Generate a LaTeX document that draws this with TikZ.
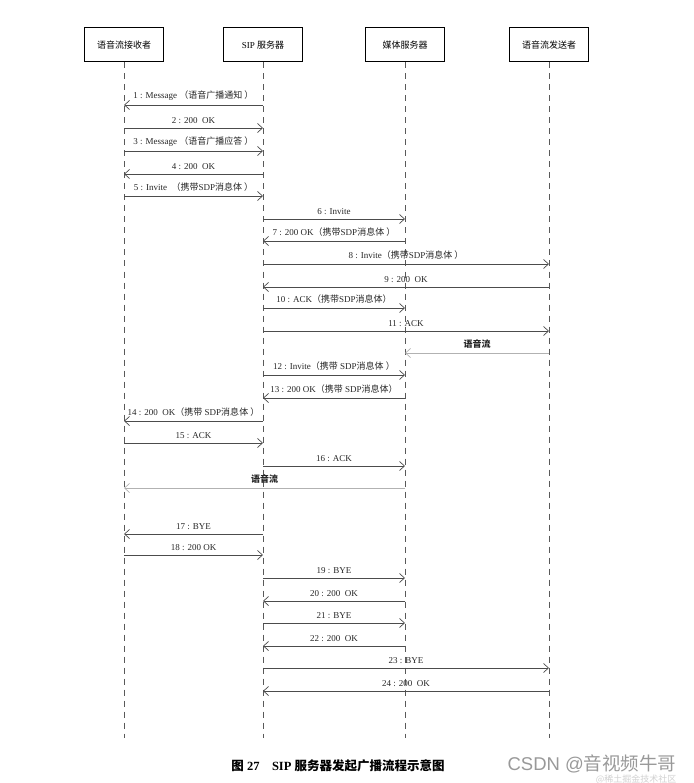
\documentclass[tikz,border=0pt]{standalone}
\usepackage{fontspec}
\setmainfont{Liberation Serif}
\newfontfamily\cjk{Noto Sans CJK SC}
\newfontfamily\wmsans{Liberation Sans}
\usetikzlibrary{arrows.meta}
\newcommand{\zh}[1]{{\cjk #1}}

\tikzset{
  actor/.style={draw, line width=1pt, minimum width=79pt, minimum height=34pt, inner sep=2pt, font=\fontsize{9}{10}\selectfont},
  life/.style={draw=black!65, dash pattern=on 6pt off 5pt, line width=.6pt},
  msg/.style={draw=black!70, line width=.7pt, -{Straight Barb[length=5pt,width=9pt]}},
  flow/.style={msg, draw=black!30},
  lbl/.style={above, inner sep=1pt, yshift=3.5pt, font=\fontsize{9}{10}\selectfont, text=black!85},
}

\begin{document}
\begin{tikzpicture}[x=1pt,y=-1pt]
\useasboundingbox (0,0) rectangle (693,783);

\node (recv) at (124,45) [actor] {\zh{语音流接收者}};
\node (sip) at (263,45) [actor] {SIP \zh{服务器}};
\node (media) at (405,45) [actor] {\zh{媒体服务器}};
\node (send) at (549,45) [actor] {\zh{语音流发送者}};

% lifelines
\foreach \n in {recv,sip,media,send}{
  \coordinate (\n-end) at (\n |- 0,738);
  \draw[life] (\n) -- (\n-end);
}

% messages: number / y / from / to / style / label
\foreach \i/\y/\s/\t/\st/\txt in {
  1/105/sip/recv/msg/{1 : Message \zh{（语音广播通知 ）}},
  2/128/recv/sip/msg/{2 : 200\ \ OK},
  3/151/recv/sip/msg/{3 : Message \zh{（语音广播应答 ）}},
  4/174/sip/recv/msg/{4 : 200\ \ OK},
  5/196/recv/sip/msg/{5 : Invite\ \ \zh{（携带}SDP\zh{消息体 ）}},
  6/219/sip/media/msg/{6 : Invite},
  7/241/media/sip/msg/{7 : 200 OK\zh{（携带}SDP\zh{消息体 ）}},
  8/264/sip/send/msg/{8 : Invite\zh{（携带}SDP\zh{消息体 ）}},
  9/287/send/sip/msg/{9 : 200\ \ OK},
  10/308/sip/media/msg/{10 : ACK\zh{（携带}SDP\zh{消息体）}},
  11/331/sip/send/msg/{11 : ACK},
  v1/353/send/media/flow/{\zh{\bfseries 语音流}},
  12/375/sip/media/msg/{12 : Invite\zh{（携带} SDP\zh{消息体 ）}},
  13/398/media/sip/msg/{13 : 200 OK\zh{（携带} SDP\zh{消息体）}},
  14/421/sip/recv/msg/{14 : 200\ \ OK\zh{（携带} SDP\zh{消息体 ）}},
  15/443/recv/sip/msg/{15 : ACK},
  16/466/sip/media/msg/{16 : ACK},
  v2/488/media/recv/flow/{\zh{\bfseries 语音流}},
  17/534/sip/recv/msg/{17 : BYE},
  18/555/recv/sip/msg/{18 : 200 OK},
  19/578/sip/media/msg/{19 : BYE},
  20/601/media/sip/msg/{20 : 200\ \ OK},
  21/623/sip/media/msg/{21 : BYE},
  22/646/media/sip/msg/{22 : 200\ \ OK},
  23/668/sip/send/msg/{23 : BYE},
  24/691/send/sip/msg/{24 : 200\ \ OK}}{
  \coordinate (m\i-a) at (\s |- 0,\y);
  \coordinate (m\i-b) at (\t |- 0,\y);
  \draw[\st] (m\i-a) -- node[lbl] {\txt} (m\i-b);
}

\node (caption) at (338,766) [font=\fontsize{12.5}{13}\selectfont\bfseries] {\zh{图} 27\quad SIP \zh{服务器发起广播流程示意图}};
\node (wm) at (592,764) [text=black!40, font=\fontsize{18.5}{19}\selectfont] {\wmsans CSDN @\zh{音视频牛哥}};
\node (wm2) at (636,779) [text=black!18, font=\fontsize{9}{9}\selectfont, inner sep=0pt] {\zh{@稀土掘金技术社区}};

\end{tikzpicture}
\end{document}
